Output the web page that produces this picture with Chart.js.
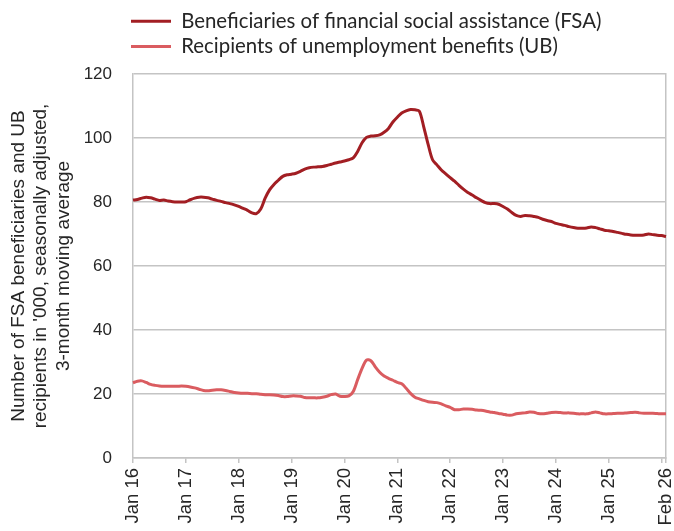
<!DOCTYPE html>
<html>
<head>
<meta charset="utf-8">
<script src="https://cdn.jsdelivr.net/npm/chart.js@4.4.1/dist/chart.umd.min.js"></script>
<style>
html,body{margin:0;padding:0;background:#ffffff;}
#wrap{width:674px;height:531px;}
</style>
</head>
<body>
<div id="wrap"><canvas id="c" width="674" height="531"></canvas></div>
<script>
// ---- categories (monthly, Jan 2016 .. Feb 2026)
const monthNames = ['Jan','Feb','Mar','Apr','May','Jun','Jul','Aug','Sep','Oct','Nov','Dec'];
const categories = [];
for (let y = 16; y <= 26; y++) {
  for (let m = 0; m < 12; m++) {
    if (y === 26 && m > 1) break;
    categories.push(monthNames[m] + ' ' + y);
  }
}

// ---- tick labels shown on the x axis
const xTickIndex = [0, 12, 24, 36, 48, 60, 72, 84, 96, 108, 121];
const xTickText  = ['Jan 16','Jan 17','Jan 18','Jan 19','Jan 20','Jan 21','Jan 22','Jan 23','Jan 24','Jan 25','Feb 26'];
const xBlankTickIndex = [120];

// ---- series (thousands)
const fsaLabel = 'Beneficiaries of financial social assistance (FSA)';
const ubLabel  = 'Recipients of unemployment benefits (UB)';

const fsaValues = [
  80.6, 80.8, 81.2, 81.5, 81.3, 80.9, 80.5, 80.6, 80.3, 80.1, 80.0, 80.0,
  80.1, 80.7, 81.2, 81.5, 81.5, 81.3, 80.9, 80.5, 80.2, 79.8, 79.5, 79.1,
  78.6, 78.0, 77.4, 76.6, 76.4, 77.8, 81.2, 83.8, 85.5, 86.8, 88.0, 88.5,
  88.7, 89.0, 89.6, 90.3, 90.7, 90.9, 91.0, 91.1, 91.4, 91.8, 92.2, 92.5,
  92.8, 93.2, 93.8, 95.8, 98.5, 100.2, 100.6, 100.7, 101.0, 101.8, 103.0, 105.0,
  106.5, 107.8, 108.5, 108.9, 108.8, 108.4, 103.5, 98.0, 93.2, 91.6, 90.0, 88.8,
  87.6, 86.5, 85.2, 84.0, 83.0, 82.2, 81.3, 80.5, 79.8, 79.5, 79.5, 79.3,
  78.6, 77.8, 76.7, 75.8, 75.5, 75.8, 75.7, 75.5, 75.2, 74.6, 74.2, 73.9,
  73.3, 73.0, 72.7, 72.3, 72.0, 71.8, 71.8, 71.9, 72.2, 72.0, 71.6, 71.2,
  71.0, 70.8, 70.5, 70.2, 69.9, 69.7, 69.6, 69.6, 69.7, 70.0, 69.8, 69.6,
  69.5, 69.2
];

const ubValues = [
  23.5, 24.0, 24.1, 23.6, 23.0, 22.7, 22.5, 22.4, 22.4, 22.4, 22.4, 22.5,
  22.4, 22.2, 21.9, 21.5, 21.1, 21.0, 21.2, 21.3, 21.3, 21.1, 20.8, 20.5,
  20.3, 20.2, 20.2, 20.1, 20.1, 19.9, 19.8, 19.8, 19.7, 19.5, 19.2, 19.2,
  19.4, 19.4, 19.3, 18.9, 18.8, 18.8, 18.8, 19.0, 19.3, 19.8, 20.0, 19.3,
  19.2, 19.4, 20.8, 24.5, 28.0, 30.6, 30.4, 28.5, 26.8, 25.6, 24.9, 24.3,
  23.6, 23.2, 21.8, 20.2, 19.0, 18.5, 18.0, 17.6, 17.4, 17.3, 16.9, 16.3,
  15.8, 15.1, 15.1, 15.3, 15.3, 15.2, 15.0, 14.9, 14.7, 14.4, 14.2, 13.9,
  13.7, 13.4, 13.4, 13.8, 14.0, 14.1, 14.4, 14.3, 13.9, 13.8, 14.0, 14.2,
  14.3, 14.2, 14.1, 14.1, 14.0, 13.8, 13.8, 13.8, 14.1, 14.4, 14.1, 13.8,
  13.8, 13.9, 14.0, 14.0, 14.1, 14.2, 14.3, 14.1, 14.0, 14.0, 14.0, 13.9,
  13.8, 13.8
];

// ---- y axis
const yMin = 0, yMax = 120, yStep = 20;
const yTitleLines = ["Number of FSA beneficiaries and UB", "recipients in '000, seasonally adjusted,", "3-month moving average"];

// ---- styling
const fsaColor = '#A21E23';
const ubColor  = '#DA5C60';
const gridColor = '#C4C4C4';
const textColor = '#262626';

const legendShift = {
  id: 'legendShift',
  afterLayout(chart) {
    const lg = chart.legend;
    if (lg) { lg.left = 126; }
  }
};

new Chart(document.getElementById('c'), {
  type: 'line',
  data: {
    labels: categories,
    datasets: [
      { label: fsaLabel, data: fsaValues, borderColor: fsaColor, backgroundColor: fsaColor, borderWidth: 3, pointRadius: 0, tension: 0.3, xAxisID: 'x', yAxisID: 'y' },
      { label: ubLabel,  data: ubValues,  borderColor: ubColor,  backgroundColor: ubColor,  borderWidth: 3, pointRadius: 0, tension: 0.3, xAxisID: 'x', yAxisID: 'y' }
    ]
  },
  options: {
    responsive: false,
    animation: false,
    events: [],
    layout: { padding: { top: 6, left: 0, right: 0, bottom: 0 } },
    plugins: {
      tooltip: { enabled: false },
      legend: {
        display: true,
        position: 'top',
        align: 'start',
        labels: {
          boxWidth: 40,
          boxHeight: 3,
          padding: 5,
          color: textColor,
          font: { family: 'Lato', size: 20.4 },
          generateLabels(chart) {
            return chart.data.datasets.map((ds, i) => ({
              text: ds.label, fillStyle: ds.borderColor, strokeStyle: ds.borderColor,
              lineWidth: 0, hidden: false, datasetIndex: i, fontColor: textColor
            }));
          }
        }
      }
    },
    scales: {
      x: {
        type: 'category',
        position: 'bottom',
        offset: false,
        grid: { display: true, drawOnChartArea: false, drawTicks: true, tickLength: 5, color: gridColor, lineWidth: 1.5 },
        border: { display: true, color: gridColor, width: 1.5 },
        ticks: {
          autoSkip: false, maxRotation: 90, minRotation: 90, padding: 5,
          color: textColor,
          font: { family: 'Liberation Sans', size: 18.5 },
          callback(value, index) {
            const k = xTickIndex.indexOf(index);
            if (k >= 0) return xTickText[k];
            if (xBlankTickIndex.indexOf(index) >= 0) return '';
            return null;
          }
        },
        afterFit(scale) { scale.height = 73; scale.paddingLeft = 0; scale.paddingRight = 0; }
      },
      xTop: {
        type: 'linear',
        position: 'top',
        display: true,
        ticks: { display: false },
        grid: { display: false },
        border: { display: false },
        afterFit(scale) { scale.height = 7.2; scale.paddingLeft = 0; scale.paddingRight = 0; }
      },
      y: {
        type: 'linear',
        position: 'left',
        min: yMin, max: yMax,
        ticks: { stepSize: yStep, padding: 21, color: textColor, font: { family: 'Liberation Sans', size: 17 } },
        grid: { display: true, drawTicks: false, color: gridColor, lineWidth: 1.5 },
        border: { display: true, color: gridColor, width: 1.5 },
        title: {
          display: true,
          text: yTitleLines,
          color: textColor,
          font: { family: 'Liberation Sans', size: 19, lineHeight: 1.2 },
          padding: { top: 7, bottom: 0 }
        },
        afterFit(scale) { scale.width = 133; }
      },
      yRight: {
        type: 'linear',
        position: 'right',
        display: true,
        ticks: { display: false },
        grid: { display: true, drawOnChartArea: false, drawTicks: false },
        border: { display: true, color: gridColor, width: 1.5 },
        afterFit(scale) { scale.width = 8; }
      }
    }
  },
  plugins: [legendShift]
});
</script>
</body>
</html>
